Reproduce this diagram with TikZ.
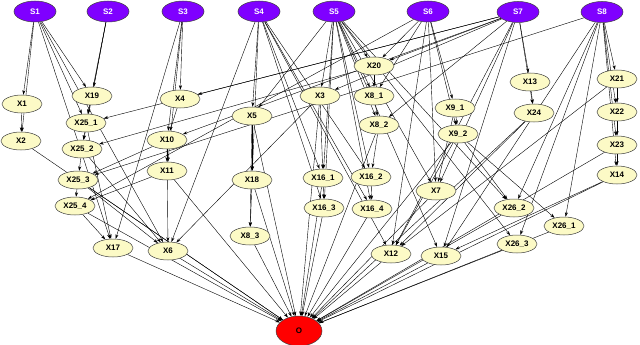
\documentclass[tikz,border=0pt]{standalone}
\usepackage{fontspec}
\setmainfont{Liberation Sans}
\usetikzlibrary{shapes.geometric,arrows.meta,backgrounds}
\definecolor{spur}{RGB}{127,0,255}
\definecolor{xyel}{RGB}{252,250,198}
\definecolor{ored}{RGB}{255,0,0}
\begin{document}
\begin{tikzpicture}[x=1pt,y=-1pt,
  base/.style={ellipse,draw=black!75,line width=0.5pt,inner sep=1pt,font=\bfseries\fontsize{8}{9}\selectfont},
  snode/.style={base,fill=spur,text=white,minimum width=42pt,minimum height=21pt},
  xnode/.style={base,fill=xyel,minimum width=40pt,minimum height=18pt},
  onode/.style={base,fill=ored,minimum width=46pt,minimum height=30pt},
  edge/.style={line width=0.4pt,-{Stealth[length=4.5pt,width=3pt]}}]
\useasboundingbox (0,0) rectangle (640,345);
% sources
\node[snode] (S1) at (35,11.5) {S1};
\node[snode] (S2) at (108,11.5) {S2};
\node[snode] (S3) at (183,11.5) {S3};
\node[snode] (S4) at (259,11.5) {S4};
\node[snode] (S5) at (334,11.5) {S5};
\node[snode] (S6) at (428,11.5) {S6};
\node[snode] (S7) at (518,12) {S7};
\node[snode] (S8) at (602,12) {S8};
% intermediates
\node[xnode] (X1) at (22,104) {X1};
\node[xnode] (X2) at (21,141) {X2};
\node[xnode] (X19) at (92,96) {X19};
\node[xnode] (X25-1) at (86,123) {X25\_1};
\node[xnode] (X4) at (180,99) {X4};
\node[xnode] (X25-2) at (82,149) {X25\_2};
\node[xnode] (X10) at (167,140) {X10};
\node[xnode] (X11) at (167,171) {X11};
\node[xnode] (X25-3) at (78,180) {X25\_3};
\node[xnode] (X25-4) at (75,206) {X25\_4};
\node[xnode] (X17) at (113,248) {X17};
\node[xnode] (X6) at (168,251) {X6};
\node[xnode] (X5) at (252,116) {X5};
\node[xnode] (X3) at (320,96) {X3};
\node[xnode] (X18) at (252,180) {X18};
\node[xnode] (X8-3) at (250,236) {X8\_3};
\node[xnode] (X20) at (374,66) {X20};
\node[xnode] (X8-1) at (374,96) {X8\_1};
\node[xnode] (X8-2) at (379,125) {X8\_2};
\node[xnode] (X16-1) at (323,178) {X16\_1};
\node[xnode] (X16-3) at (324,208) {X16\_3};
\node[xnode] (X16-2) at (371,177) {X16\_2};
\node[xnode] (X16-4) at (372,209) {X16\_4};
\node[xnode] (X9-1) at (455,108) {X9\_1};
\node[xnode] (X9-2) at (458,134) {X9\_2};
\node[xnode] (X13) at (530,82) {X13};
\node[xnode] (X24) at (534,113) {X24};
\node[xnode] (X21) at (617,79) {X21};
\node[xnode] (X22) at (617,112) {X22};
\node[xnode] (X23) at (617,145) {X23};
\node[xnode] (X14) at (617,175) {X14};
\node[xnode] (X7) at (436,191) {X7};
\node[xnode] (X26-2) at (514,208) {X26\_2};
\node[xnode] (X26-1) at (564,226) {X26\_1};
\node[xnode] (X26-3) at (517,244) {X26\_3};
\node[xnode] (X12) at (391,254) {X12};
\node[xnode] (X15) at (441,256) {X15};
\node[onode] (O) at (299,331) {O};
\begin{pgfonlayer}{background}
\foreach \a/\b in {
  S1/X1, S1/X2, S1/X19, S1/X25-1, S1/X6, S1/X17,
  S2/X19, S2/X25-1, S2/X25-2,
  S3/X4, S3/X10, S3/X11, S3/X17,
  S4/X5, S4/X18, S4/X6, S4/X16-1, S4/X16-3, S4/X16-2, S4/X16-4, S4/X12,
  S5/X20, S5/X8-1, S5/X8-2, S5/X3, S5/X16-1, S5/X16-3, S5/X16-2, S5/X16-4, S5/X5, S5/X26-2, S5/X26-3, S5/X15, S5/X7,
  S6/X9-1, S6/X9-2, S6/X20, S6/X8-1, S6/X7, S6/X12, S6/X25-4,
  S7/X13, S7/X24, S7/X20, S7/X8-2, S7/X25-1, S7/X4, S7/X3, S7/X10, S7/X7, S7/X12, S7/X15,
  S8/X21, S8/X22, S8/X23, S8/X14, S8/X26-2, S8/X26-1, S8/X26-3, S8/X25-3, S8/X15,
  X1/X2, X19/X25-1, X25-1/X25-2, X25-2/X25-3, X25-3/X25-4, X4/X10, X10/X11, X10/X25-3, X11/X25-4,
  X20/X25-2, X20/X8-1, X8-1/X8-2, X5/X18, X5/X8-3, X18/X8-3, X3/X16-1, X3/X6, X16-1/X16-3,
  X8-2/X16-2, X16-2/X16-4, X9-1/X9-2, X9-2/X26-2, X9-2/X26-1, X9-2/X12, X9-1/X7, X13/X24,
  X21/X22, X22/X23, X23/X14, X25-2/X6, X25-3/X6, X25-4/X17, X25-1/X17, X10/X6, X21/X12, X14/X15, X24/X12,
  X2/O, X25-4/O, X25-3/O, X17/O, X6/O, X8-3/O, X18/O, X5/O, X16-3/O, X16-4/O, X16-1/O, X3/O, X8-2/O,
  X12/O, X15/O, X7/O, X26-3/O, X26-1/O, X26-2/O, X14/O, X24/O, X11/O, X9-2/O, X23/O}
  \draw[edge] (\a) -- (\b);
\end{pgfonlayer}
\end{tikzpicture}
\end{document}
